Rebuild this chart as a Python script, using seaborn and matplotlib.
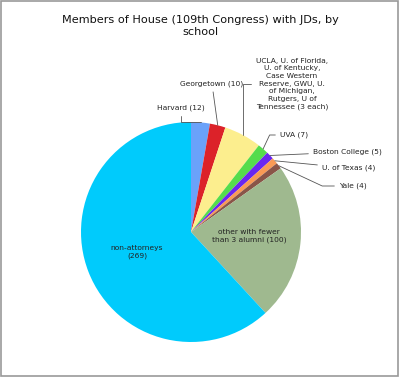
import matplotlib
matplotlib.use("Agg")
import matplotlib.pyplot as plt
import numpy as np
import seaborn as sns
from matplotlib.patches import Rectangle

# Data (435 House members in total).
schools = [
    "Harvard", "Georgetown",
    "UCLA, U. of Florida,\nU. of Kentucky,\nCase Western\nReserve, GWU, U.\nof Michigan,\nRutgers, U of\nTennessee",
    "UVA", "Boston College", "U. of Texas", "Yale",
    "other with fewer\nthan 3 alumni", "non-attorneys",
]
members = [12, 10, 24, 7, 5, 4, 4, 100, 269]
count_text = ["(12)", "(10)", "(3 each)", "(7)", "(5)", "(4)", "(4)", "(100)", "(269)"]
slice_colors = ["#6aa2fa", "#dc2229", "#fcee8e", "#55dc4c", "#6a26f0",
                "#fa9a55", "#8a5548", "#9fb98f", "#00cbfc"]

# Label placement in figure pixels from the top-left corner (layout only).
label_pos = [(181, 108), (212, 84), (292, 84), (280, 135), (313, 152),
             (322, 168), (339, 186), (249, 236), (137, 252)]
label_ha = ["center", "center", "center", "left", "left", "left", "left",
            "center", "center"]
inside = [False] * 7 + [True, True]
joins = [" ", " ", " ", " ", " ", " ", " ", " ", "\n"]
leader_style = ["angle,angleA=90,angleB=0", "arc3", "angle,angleA=0,angleB=90",
                "angle,angleA=0,angleB=65", "arc3", "arc3",
                "angle,angleA=0,angleB=-25"]

W, H = 400, 377
sns.set_style("white")
fig = plt.figure(figsize=(W / 100, H / 100), dpi=100)

# Pie centre (191, 232) with radius 110 px.
cx, cy, r = 191, 232, 110
ax = fig.add_axes([(cx - r) / W, (H - cy - r) / H, 2 * r / W, 2 * r / H])
wedges, _ = ax.pie(members, colors=sns.color_palette(slice_colors),
                   startangle=90, counterclock=False,
                   wedgeprops=dict(linewidth=0))
ax.set_xlim(-1, 1)
ax.set_ylim(-1, 1)
ax.set_aspect("equal")
ax.axis("off")

for i, w in enumerate(wedges):
    tx, ty = label_pos[i]
    txt = schools[i] + joins[i] + count_text[i]
    if inside[i]:
        fig.text(tx / W, 1 - ty / H, txt, ha="center", va="center",
                 fontsize=5.4, color="#222222", linespacing=1.35)
        continue
    mid = np.deg2rad((w.theta1 + w.theta2) / 2)
    ax.annotate(txt, xy=(np.cos(mid), np.sin(mid)), xycoords="data",
                xytext=(tx, H - ty), textcoords="figure pixels",
                ha=label_ha[i], va="center", fontsize=5.4, color="#222222",
                linespacing=1.35, annotation_clip=False,
                arrowprops=dict(arrowstyle="-", color="#555555", lw=0.6,
                                shrinkA=1, shrinkB=0,
                                connectionstyle=leader_style[i]))

fig.text(0.5, 1 - 26 / H, "Members of House (109th Congress) with JDs, by\nschool",
         ha="center", va="center", fontsize=8.1, color="#111111",
         linespacing=1.2)

# Thin grey frame around the whole picture.
fig.patches.append(Rectangle((0.002, 0.003), 0.994, 0.994,
                             transform=fig.transFigure, fill=False,
                             edgecolor="#999999", lw=1.2))

fig.savefig("out.png", dpi=100)
